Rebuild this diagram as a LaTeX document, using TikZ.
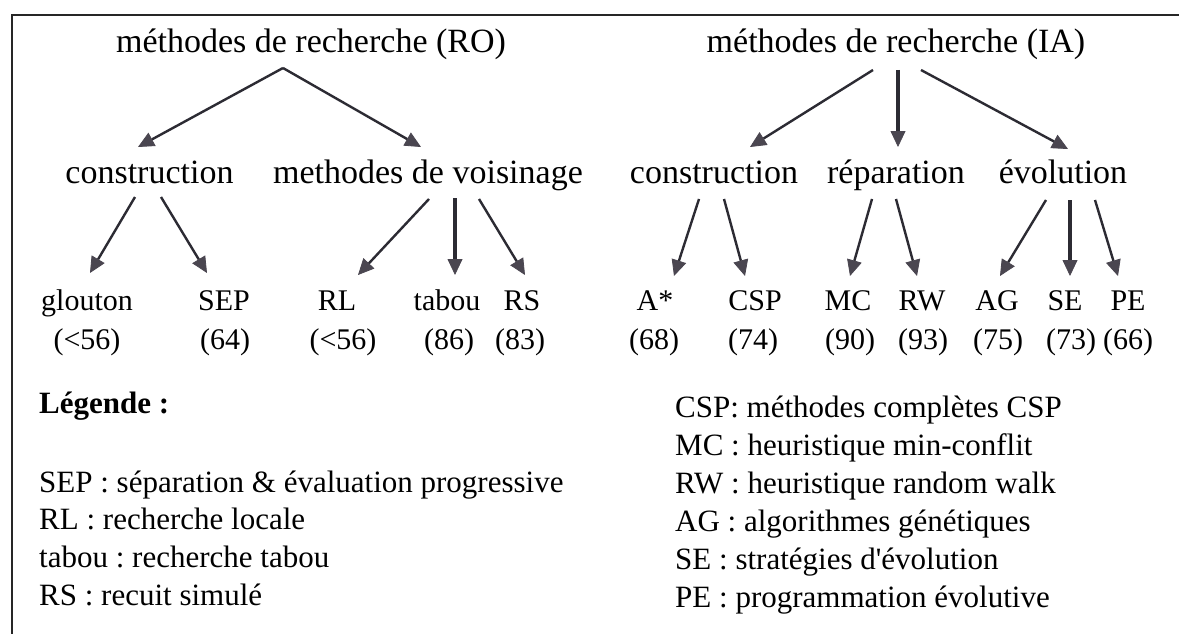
\documentclass[tikz,border=0pt]{standalone}
\usepackage{fontspec}
\setmainfont{Liberation Serif}
\usetikzlibrary{arrows.meta,calc}
\frenchspacing

\definecolor{inkline}{HTML}{2C2B33}
\definecolor{inkhead}{HTML}{4A4650}

\tikzset{
  big/.style={font=\fontsize{34}{40}\selectfont, inner sep=0pt, anchor=base},
  leaf/.style={font=\fontsize{30}{36}\selectfont, inner sep=0pt, anchor=base},
  legendline/.style={font=\fontsize{31}{38}\selectfont, inner sep=0pt, anchor=base west},
  legendhead/.style={legendline, font=\fontsize{31}{38}\selectfont\bfseries},
  branch/.style={draw=inkline, line width=2.4pt,
    -{Triangle[length=16pt,width=15pt,line width=0.8pt,color=inkhead,fill=inkhead]}},
  upright/.style={branch, line width=3.2pt},
  frameline/.style={draw=black!85, line width=2pt}
}

\begin{document}
\begin{tikzpicture}[x=1pt, y=-1pt]
\useasboundingbox (0,0) rectangle (1179,634);
\fill[white] (0,0) rectangle (1179,634);

% frame (top and left edges)
\draw[frameline] (12,634) -- (12,15) -- (1179,15);

% roots
\node[big] (ro) at (311,53) {méthodes de recherche (RO)};
\node[big] (ia) at (896,53) {méthodes de recherche (IA)};

% second level
\node[big] (roc) at (149.5,183) {construction};
\node[big] (rov) at (428,183) {methodes de voisinage};
\node[big] (iac) at (714,183) {construction};
\node[big] (iar) at (896,183) {réparation};
\node[big] (iae) at (1063,183) {évolution};

% leaves
\node[leaf] (glouton) at (87,310) {glouton};
\node[leaf] (sep) at (224,310) {SEP};
\node[leaf] (rl) at (337,310) {RL};
\node[leaf] (tabou) at (447,310) {tabou};
\node[leaf] (rs) at (522,310) {RS};
\node[leaf] (astar) at (655,310) {A*};
\node[leaf] (csp) at (755,310) {CSP};
\node[leaf] (mc) at (848,310) {MC};
\node[leaf] (rw) at (922,310) {RW};
\node[leaf] (ag) at (997,310) {AG};
\node[leaf] (se) at (1065,310) {SE};
\node[leaf] (pe) at (1128,310) {PE};

% scores
\node[leaf] (nglouton) at (87,349) {(<56)};
\node[leaf] (nsep) at (225,349) {(64)};
\node[leaf] (nrl) at (343,349) {(<56)};
\node[leaf] (ntabou) at (449,349) {(86)};
\node[leaf] (nrs) at (520,349) {(83)};
\node[leaf] (nastar) at (654,349) {(68)};
\node[leaf] (ncsp) at (753,349) {(74)};
\node[leaf] (nmc) at (850,349) {(90)};
\node[leaf] (nrw) at (923,349) {(93)};
\node[leaf] (nag) at (998,349) {(75)};
\node[leaf] (nse) at (1071,349) {(73)};
\node[leaf] (npe) at (1128,349) {(66)};

% arrows, root RO
\draw[branch] ($(ro.base)+(-28,15)$) -- ($(roc.base)+(-11.5,-36)$);
\draw[branch] ($(ro.base)+(-28,15)$) -- ($(rov.base)+(-7,-36)$);
% arrows, root IA
\draw[branch] ($(ia.base)+(-23,17)$) -- ($(iac.base)+(36,-36)$);
\draw[upright] ($(ia.base)+(2,17)$) -- ($(iar.base)+(2,-36)$);
\draw[branch] ($(ia.base)+(25,17)$) -- ($(iae.base)+(5,-34)$);
% arrows, second level
\draw[branch] ($(roc.base)+(-14.5,14)$) -- ($(glouton.base)+(3,-37)$);
\draw[branch] ($(roc.base)+(11.5,14)$) -- ($(sep.base)+(-17,-37)$);
\draw[branch] ($(rov.base)+(1,16)$) -- ($(rl.base)+(21,-35)$);
\draw[upright] ($(rov.base)+(27,15)$) -- ($(tabou.base)+(8,-35)$);
\draw[branch] ($(rov.base)+(51,16)$) -- ($(rs.base)+(3,-35)$);
\draw[branch] ($(iac.base)+(-15,16)$) -- ($(astar.base)+(19,-34)$);
\draw[branch] ($(iac.base)+(10,16)$) -- ($(csp.base)+(-10,-34)$);
\draw[branch] ($(iar.base)+(-24,16)$) -- ($(mc.base)+(2,-34)$);
\draw[branch] ($(iar.base)+(0,16)$) -- ($(rw.base)+(-5,-34)$);
\draw[branch] ($(iae.base)+(-17,17)$) -- ($(ag.base)+(3,-34)$);
\draw[upright] ($(iae.base)+(7,17)$) -- ($(se.base)+(5,-34)$);
\draw[branch] ($(iae.base)+(32,17)$) -- ($(pe.base)+(-10,-34)$);

% legend, left column
\node[legendhead] (leghead) at (39,413) {Légende :};
\node[legendline] (legsep) at (39,492) {SEP : séparation \& évaluation progressive};
\node[legendline] (legrl) at (39,529) {RL : recherche locale};
\node[legendline] (legtabou) at (39,567) {tabou : recherche tabou};
\node[legendline] (legrs) at (39,605) {RS : recuit simulé};

% legend, right column
\node[legendline] (legcsp) at (675,417) {CSP: méthodes complètes CSP};
\node[legendline] (legmc) at (675,455) {MC : heuristique min-conflit};
\node[legendline] (legrw) at (675,493) {RW : heuristique random walk};
\node[legendline] (legag) at (675,531) {AG : algorithmes génétiques};
\node[legendline] (legse) at (675,569) {SE : stratégies d\textquotesingle évolution};
\node[legendline] (legpe) at (675,607) {PE : programmation évolutive};
\end{tikzpicture}
\end{document}
